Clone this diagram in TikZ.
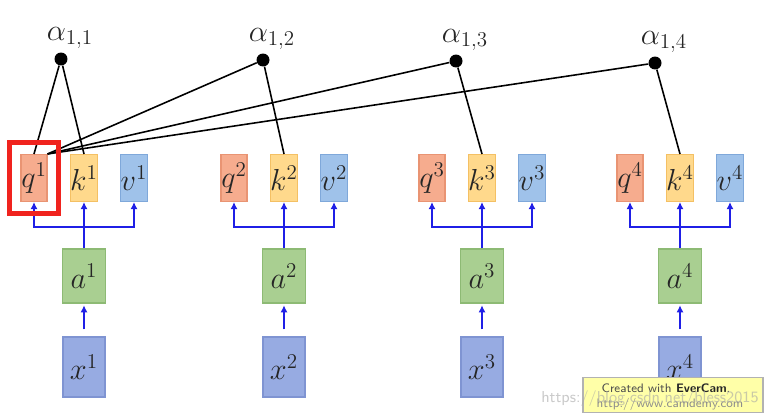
\documentclass[tikz,border=0pt]{standalone}
\usepackage{tikz}
\usetikzlibrary{arrows.meta,fit}
\definecolor{qfill}{HTML}{F6AC8E}
\definecolor{qline}{HTML}{E99473}
\definecolor{kfill}{HTML}{FFD98C}
\definecolor{kline}{HTML}{F4C064}
\definecolor{vfill}{HTML}{9FC2EA}
\definecolor{vline}{HTML}{7FA8DA}
\definecolor{afill}{HTML}{A9CF91}
\definecolor{aline}{HTML}{8DBA74}
\definecolor{xfill}{HTML}{97ABE2}
\definecolor{xline}{HTML}{7F94D2}
\definecolor{wire}{HTML}{1F1FE6}
\definecolor{hlred}{HTML}{F0231E}
\definecolor{stamp}{HTML}{FFFFA8}

\tikzset{
  cell/.style={rectangle, inner sep=0, line width=0.6pt, font=\LARGE, text=black!85},
  qcell/.style={cell, fill=qfill, draw=qline, minimum width=0.52cm, minimum height=0.94cm},
  kcell/.style={cell, fill=kfill, draw=kline, minimum width=0.52cm, minimum height=0.94cm},
  vcell/.style={cell, fill=vfill, draw=vline, minimum width=0.52cm, minimum height=0.94cm},
  acell/.style={cell, fill=afill, draw=aline, minimum width=0.86cm, minimum height=1.08cm},
  xcell/.style={cell, fill=xfill, draw=xline, minimum width=0.84cm, minimum height=1.2cm},
  wiring/.style={wire, line width=1.2pt},
  wirearrow/.style={wiring, -{Latex[length=4pt,width=4pt]}},
  score/.style={circle, fill=black, minimum size=0.26cm, inner sep=0},
  link/.style={black, line width=0.9pt}
}

\begin{document}
\begin{tikzpicture}[x=0.02cm, y=-0.02cm]

\useasboundingbox (0,0) rectangle (768,419);

% one column per input: x -> a -> q, k, v
\foreach \i/\cx in {1/84, 2/284, 3/482, 4/680}{
  \node[qcell] (q\i) at (\cx-50,178) {$q^{\i}$};
  \node[kcell] (k\i) at (\cx,178)    {$k^{\i}$};
  \node[vcell] (v\i) at (\cx+50,178) {$v^{\i}$};
  \node[acell] (a\i) at (\cx,276)    {$a^{\i}$};
  \node[xcell] (x\i) at (\cx,367)    {$x^{\i}$};
  \coordinate (j\i) at (\cx,227);
  \draw[wirearrow, shorten <=4pt, shorten >=1pt] (x\i) -- (a\i);
  \draw[wiring] (a\i.north) -- (j\i);
  \draw[wirearrow] (j\i) -- (k\i.south);
  \draw[wirearrow] (j\i) -| (q\i.south);
  \draw[wirearrow] (j\i) -| (v\i.south);
}

% attention scores of q1 against every key
\foreach \j/\px/\py in {1/61/59, 2/263/60, 3/456/61, 4/655/63}{
  \node[score] (al\j) at (\px,\py) {};
  \node[font=\LARGE, text=black!85] (lab\j) at (\px+9,\py-21) {$\alpha_{1,\j}$};
}

\draw[link] (al1) -- (q1.north);
\draw[link] (al1) -- (k1.north);
\foreach \j in {2,3,4}{
  \draw[link] (al\j) -- (q1.north east);
  \draw[link] (al\j) -- (k\j.north);
}

\node[draw=hlred, line width=2.9pt, fit=(q1), inner sep=6.3pt] (hl) {};

% recorder stamp
\node[draw=black!30, fill=stamp, line width=0.6pt, minimum width=3.6cm,
      minimum height=0.7cm, inner sep=0] (stampbox) at (673,395) {};
\node[font=\scriptsize\sffamily, color=black!70, inner sep=0] (stamp1) at (666,388)
  {Created with \textbf{\color{black!85}EverCam}.};
\node[font=\scriptsize\sffamily, color=black!45, inner sep=0] (stamp2) at (670,404)
  {http://www.camdemy.com};
\node[font=\small\sffamily, color=black!35, opacity=0.6] (mark) at (650,399)
  {https://blog.csdn.net/bless2015};

\end{tikzpicture}
\end{document}
